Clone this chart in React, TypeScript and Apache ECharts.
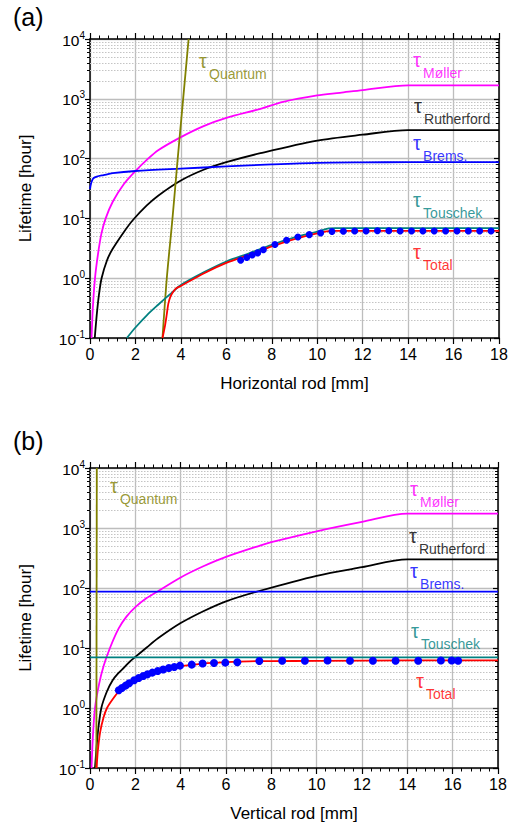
import React, { useEffect, useRef } from "react";
import * as echarts from "echarts";

const FONT = '"Liberation Sans", Arial, Helvetica, sans-serif';

// ---------- Panel (a): Horizontal rod ----------
const hMollerX = [0.07, 0.12, 0.22, 0.35, 0.5, 0.69, 1.0, 1.5, 2, 2.5, 3, 4, 5, 6, 7.5, 8.5, 10, 11, 12, 14, 18];
const hMollerY = [0.1, 0.3, 1.0, 2.5, 5.5, 10, 19, 38, 62, 95, 138, 229, 350, 480, 680, 890, 1140, 1260, 1400, 1680, 1680];

const hRuthX = [0.21, 0.3, 0.4, 0.51, 0.75, 1.0, 1.5, 1.9, 2.5, 3, 4, 5, 6, 7.5, 10, 12, 14, 18];
const hRuthY = [0.1, 0.25, 0.55, 1.0, 2.0, 3.1, 6.0, 9.5, 16.5, 24, 43, 65, 87, 123, 200, 251, 300, 300];

const hBremsX = [0, 0.03, 0.08, 0.15, 0.3, 0.6, 1, 2, 4, 6, 8, 10, 12, 14, 18];
const hBremsY = [31, 36, 42, 47, 50, 53, 57, 62, 68, 74, 80, 85, 86.5, 87, 87];

const hQuantX = [3.19, 3.38, 3.63, 3.86, 4.1, 4.34];
const hQuantY = [0.1, 1, 10, 100, 1000, 10000];

const hTouX = [1.62, 2, 2.5, 3, 3.5, 4, 5, 6, 7, 8, 9, 10, 10.5, 10.8, 18];
const hTouY = [0.1, 0.15, 0.24, 0.36, 0.53, 0.77, 1.25, 1.9, 2.6, 3.6, 4.8, 6.0, 6.8, 6.9, 6.9];

const hTotX = [3.19, 3.3, 3.38, 3.45, 3.55, 3.67, 3.8, 4, 5, 6, 7, 8, 9, 10, 10.6, 18];
const hTotY = [0.1, 0.16, 0.25, 0.38, 0.5, 0.6, 0.68, 0.74, 1.2, 1.8, 2.45, 3.4, 4.5, 5.6, 6.2, 6.2];

const hMeasX = [6.63, 6.9, 7.14, 7.38, 7.63, 8.14, 8.65, 9.15, 9.65, 10.15, 10.65, 11.15, 11.65, 12.15, 12.65, 13.15, 13.65, 14.15, 14.65, 15.15, 15.65, 16.15, 16.65, 17.15, 17.65];
const hMeasY = [1.99, 2.22, 2.45, 2.65, 3.0, 3.65, 4.3, 4.9, 5.35, 5.7, 6.05, 6.1, 6.15, 6.15, 6.2, 6.2, 6.15, 6.15, 6.15, 6.15, 6.15, 6.15, 6.15, 6.15, 6.15];

// ---------- Panel (b): Vertical rod ----------
const vMollerX = [0.07, 0.12, 0.22, 0.4, 0.6, 0.88, 1.26, 1.6, 2, 2.5, 3.05, 4, 5, 6, 7.5, 8, 10, 12, 14, 18];
const vMollerY = [0.1, 0.3, 1, 2.5, 5, 10, 21, 33, 48, 68, 91, 150, 230, 330, 510, 580, 880, 1260, 1740, 1740];

const vRuthX = [0.22, 0.28, 0.35, 0.5, 0.75, 1.0, 1.25, 1.5, 1.75, 2.0, 2.5, 3, 4, 5, 6, 7.5, 10, 12, 14, 18];
const vRuthY = [0.1, 0.2, 0.4, 1.0, 1.9, 2.9, 3.8, 4.7, 5.9, 7.1, 10.2, 14.5, 26, 41, 60, 90, 160, 222, 300, 300];

const vBremsX = [0, 18];
const vBremsY = [87, 87];

const vQuantX = [0.28, 0.3];
const vQuantY = [0.1, 10000];

const vTouX = [0, 18];
const vTouY = [7.0, 7.0];

const vTotX = [0.29, 0.35, 0.45, 0.6, 0.75, 1.0, 1.3, 1.6, 2, 2.5, 3, 3.5, 4, 5, 6, 7, 8, 10, 14, 18];
const vTotY = [0.1, 0.2, 0.4, 0.7, 1.0, 1.4, 1.95, 2.4, 2.95, 3.6, 4.15, 4.6, 5.0, 5.5, 5.8, 6.0, 6.05, 6.1, 6.2, 6.2];

const vMeasX = [1.27, 1.41, 1.57, 1.73, 1.95, 2.15, 2.35, 2.54, 2.75, 2.99, 3.23, 3.48, 3.72, 3.97, 4.49, 4.97, 5.47, 5.97, 6.5, 7.47, 8.48, 9.48, 10.48, 11.47, 12.48, 13.48, 14.48, 15.48, 15.96, 16.24];
const vMeasY = [1.97, 2.15, 2.36, 2.58, 2.9, 3.16, 3.41, 3.64, 3.89, 4.14, 4.37, 4.64, 4.82, 5.09, 5.29, 5.5, 5.62, 5.7, 5.78, 6.07, 6.15, 6.15, 6.2, 6.15, 6.15, 6.15, 6.15, 6.2, 6.2, 6.15];

// ---------- Curve labels (anchor = top-left of the τ) ----------
const labelNames = ["Quantum", "Møller", "Rutherford", "Brems.", "Touschek", "Total"];
const labelColors = ["#808000", "#ff00ff", "#000000", "#0000ff", "#008080", "#ff0000"];
const hLabelX = [4.8, 14.22, 14.26, 14.22, 14.22, 14.22];
const hLabelY = [6310, 6550, 1117, 270, 30.1, 4.08];
const vLabelX = [0.88, 14.12, 14.07, 14.12, 14.16, 14.38];
const vLabelY = [7360, 6560, 1080, 282, 28.2, 4.14];

// ---------- Axis ticks ----------
const decadeStarts = [0.1, 1, 10, 100, 1000];
const minorMultipliers = [2, 3, 4, 5, 6, 7, 8, 9];
const minorTickValues: number[] = [];
decadeStarts.forEach((d) => minorMultipliers.forEach((m) => minorTickValues.push(+(d * m).toPrecision(3))));

const COLORS = {
  moller: "#ff00ff",
  ruth: "#000000",
  brems: "#0000ff",
  quant: "#808000",
  tou: "#008080",
  tot: "#ff0000",
  meas: "#0000ff",
};

const zip = (xs: number[], ys: number[]) => xs.map((x, i) => [x, ys[i]]);

function lineSeries(xs: number[], ys: number[], color: string, xi: number, yi: number, width = 1.8) {
  return {
    type: "line",
    data: zip(xs, ys),
    xAxisIndex: xi,
    yAxisIndex: yi,
    symbol: "none",
    showSymbol: false,
    smooth: 0.3,
    lineStyle: { color, width },
    itemStyle: { color },
    z: 3,
    silent: true,
  };
}

function dotSeries(xs: number[], ys: number[], xi: number, yi: number, size: number) {
  return {
    type: "scatter",
    data: zip(xs, ys),
    xAxisIndex: xi,
    yAxisIndex: yi,
    symbol: "circle",
    symbolSize: size,
    itemStyle: { color: COLORS.meas, opacity: 1 },
    z: 4,
    silent: true,
  };
}

function labelSeries(xs: number[], ys: number[], xi: number, yi: number) {
  return labelNames.map((name, i) => ({
    type: "scatter",
    xAxisIndex: xi,
    yAxisIndex: yi,
    symbolSize: 0,
    silent: true,
    z: 6,
    data: [
      {
        value: [xs[i], ys[i]],
        label: {
          show: true,
          position: [0, 0],
          align: "left",
          verticalAlign: "top",
          formatter: "τ",
          fontSize: 20,
          lineHeight: 20,
          color: labelColors[i],
          fontFamily: FONT,
        },
      },
      {
        value: [xs[i], ys[i]],
        label: {
          show: true,
          position: [10, 15],
          align: "left",
          verticalAlign: "top",
          formatter: name,
          fontSize: 14,
          lineHeight: 16,
          color: labelColors[i],
          fontFamily: FONT,
        },
      },
    ],
  }));
}

function minorSeries(xi: number, yi: number) {
  return {
    type: "custom",
    xAxisIndex: xi,
    yAxisIndex: yi,
    data: minorTickValues.map((v) => [0, v]),
    encode: { x: 0, y: 1 },
    clip: false,
    silent: true,
    z: 1,
    renderItem: (params: any, api: any) => {
      const cs = params.coordSys;
      const p = api.coord([api.value(0), api.value(1)]);
      const y = Math.round(p[1]) + 0.5;
      return {
        type: "group",
        children: [
          { type: "line", shape: { x1: cs.x, y1: y, x2: cs.x + cs.width, y2: y }, style: { stroke: "#c4c4c4", lineWidth: 1, lineDash: [1.5, 1.5] } },
          { type: "line", shape: { x1: cs.x - 3, y1: y, x2: cs.x, y2: y }, style: { stroke: "#000", lineWidth: 1 } },
          { type: "line", shape: { x1: cs.x + cs.width - 3, y1: y, x2: cs.x + cs.width, y2: y }, style: { stroke: "#000", lineWidth: 1 } },
        ],
      };
    },
  };
}

const axisLineStyle = { color: "#000", width: 1.5 };
const gridLineStyle = { color: "#bdbdbd", width: 1.3 };

function xBottom(gi: number, name: string) {
  return {
    type: "value",
    gridIndex: gi,
    min: 0,
    max: 18,
    interval: 2,
    position: "bottom",
    name,
    nameLocation: "middle",
    nameGap: 37,
    nameTextStyle: { fontSize: 17, fontFamily: FONT, color: "#000" },
    axisLine: { show: true, onZero: false, lineStyle: axisLineStyle },
    axisTick: { show: true, inside: false, length: 6, lineStyle: { color: "#000", width: 1.2 } },
    minorTick: { show: true, splitNumber: 5, length: 3.5, lineStyle: { color: "#000", width: 1 } },
    axisLabel: { fontSize: 16, margin: 8, color: "#000", fontFamily: FONT },
    splitLine: { show: true, lineStyle: gridLineStyle },
    minorSplitLine: { show: false },
  };
}

function xTop(gi: number) {
  return {
    type: "value",
    gridIndex: gi,
    min: 0,
    max: 18,
    interval: 2,
    position: "top",
    axisLine: { show: true, onZero: false, lineStyle: axisLineStyle },
    axisTick: { show: true, inside: false, length: 6, lineStyle: { color: "#000", width: 1.2 } },
    minorTick: { show: true, splitNumber: 5, length: 3.5, lineStyle: { color: "#000", width: 1 } },
    axisLabel: { show: false },
    splitLine: { show: false },
  };
}

function yLeft(gi: number) {
  return {
    type: "log",
    logBase: 10,
    gridIndex: gi,
    min: 0.1,
    max: 10000,
    splitNumber: 5,
    position: "left",
    name: "Lifetime [hour]",
    nameLocation: "middle",
    nameGap: 56,
    nameTextStyle: { fontSize: 17, fontFamily: FONT, color: "#000" },
    axisLine: { show: true, onZero: false, lineStyle: axisLineStyle },
    axisTick: { show: true, inside: false, length: 5, lineStyle: { color: "#000", width: 1.2 } },
    axisLabel: {
      margin: 5,
      formatter: (v: number) => `{b|10}{s|${Math.round(Math.log10(v))}}`,
      rich: {
        b: { fontSize: 15.5, lineHeight: 18, padding: [2, 0, 0, 0], verticalAlign: "bottom", color: "#000", fontFamily: FONT },
        s: { fontSize: 10, lineHeight: 12, verticalAlign: "top", color: "#000", fontFamily: FONT },
      },
    },
    splitLine: { show: true, lineStyle: gridLineStyle },
  };
}

function yRight(gi: number) {
  return {
    type: "log",
    logBase: 10,
    gridIndex: gi,
    min: 0.1,
    max: 10000,
    splitNumber: 5,
    position: "right",
    axisLine: { show: true, onZero: false, lineStyle: axisLineStyle },
    axisTick: { show: true, inside: true, length: 5, lineStyle: { color: "#000", width: 1.2 } },
    axisLabel: { show: false },
    splitLine: { show: false },
  };
}

export default function App() {
  const ref = useRef<HTMLDivElement>(null);
  useEffect(() => {
    if (!ref.current) return;
    const chart = echarts.init(ref.current, undefined, { renderer: "svg" });
    const option: any = {
      animation: false,
      backgroundColor: "#ffffff",
      textStyle: { fontFamily: FONT },
      grid: [
        { left: 90, top: 39, width: 409, height: 299, containLabel: false },
        { left: 90, top: 468, width: 408, height: 300, containLabel: false },
      ],
      xAxis: [xBottom(0, "Horizontal rod [mm]"), xTop(0), xBottom(1, "Vertical rod [mm]"), xTop(1)],
      yAxis: [yLeft(0), yRight(0), yLeft(1), yRight(1)],
      graphic: [
        { type: "text", left: 13, top: 4, style: { text: "(a)", fontSize: 25, fontFamily: FONT, fill: "#000" } },
        { type: "text", left: 13, top: 428, style: { text: "(b)", fontSize: 25, fontFamily: FONT, fill: "#000" } },
      ],
      series: [
        minorSeries(0, 0),
        lineSeries(hMollerX, hMollerY, COLORS.moller, 0, 0),
        lineSeries(hRuthX, hRuthY, COLORS.ruth, 0, 0),
        lineSeries(hBremsX, hBremsY, COLORS.brems, 0, 0),
        lineSeries(hQuantX, hQuantY, COLORS.quant, 0, 0),
        lineSeries(hTouX, hTouY, COLORS.tou, 0, 0),
        lineSeries(hTotX, hTotY, COLORS.tot, 0, 0),
        dotSeries(hMeasX, hMeasY, 0, 0, 7),
        ...labelSeries(hLabelX, hLabelY, 0, 0),
        minorSeries(2, 2),
        lineSeries(vMollerX, vMollerY, COLORS.moller, 2, 2),
        lineSeries(vRuthX, vRuthY, COLORS.ruth, 2, 2),
        lineSeries(vBremsX, vBremsY, COLORS.brems, 2, 2),
        lineSeries(vQuantX, vQuantY, COLORS.quant, 2, 2),
        lineSeries(vTouX, vTouY, COLORS.tou, 2, 2),
        lineSeries(vTotX, vTotY, COLORS.tot, 2, 2),
        dotSeries(vMeasX, vMeasY, 2, 2, 8),
        ...labelSeries(vLabelX, vLabelY, 2, 2),
      ],
    };
    chart.setOption(option);
    return () => chart.dispose();
  }, []);
  return <div ref={ref} style={{ position: "absolute", left: 0, top: 0, width: 512, height: 823 }} />;
}
